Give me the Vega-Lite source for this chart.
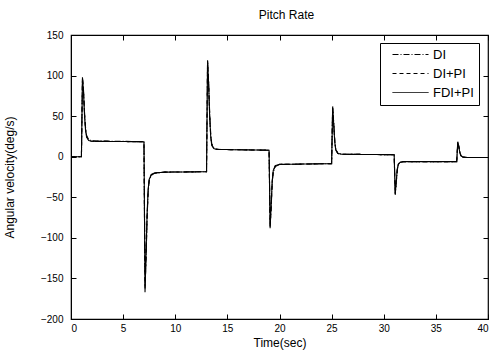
{
  "$schema": "https://vega.github.io/schema/vega-lite/v6.json",
  "width": 417,
  "height": 284,
  "autosize": {"type": "none"},
  "padding": {"left": 71, "top": 35, "right": 4, "bottom": 37},
  "background": "white",
  "title": {"text": "Pitch Rate", "fontSize": 12, "fontWeight": "normal", "font": "Liberation Sans", "color": "black", "offset": 8, "dx": 7},
  "config": {
    "font": "Liberation Sans",
    "view": {"stroke": "black", "strokeWidth": 1.2},
    "axis": {"grid": false, "domainColor": "black", "tickColor": "black", "labelColor": "black", "titleColor": "black", "labelFontSize": 10, "titleFontSize": 12, "titleFontWeight": "normal", "tickSize": -5}
  },
  "data": {"values": [
    {"t": 0, "DI": 0, "DI+PI": 0, "FDI+PI": 0},
    {"t": 1.0, "DI": 0, "DI+PI": 0, "FDI+PI": 0},
    {"t": 1.1, "DI": 96, "DI+PI": 97, "FDI+PI": 98},
    {"t": 1.2, "DI": 82, "DI+PI": 81, "FDI+PI": 80},
    {"t": 1.3, "DI": 54, "DI+PI": 52, "FDI+PI": 50},
    {"t": 1.4, "DI": 35, "DI+PI": 33, "FDI+PI": 32},
    {"t": 1.5, "DI": 26, "DI+PI": 25, "FDI+PI": 24},
    {"t": 1.7, "DI": 21, "DI+PI": 20, "FDI+PI": 20},
    {"t": 2.0, "DI": 19.5, "DI+PI": 19, "FDI+PI": 19},
    {"t": 7.0, "DI": 18.5, "DI+PI": 18.5, "FDI+PI": 18.5},
    {"t": 7.1, "DI": -160, "DI+PI": -164, "FDI+PI": -167},
    {"t": 7.2, "DI": -125, "DI+PI": -122, "FDI+PI": -120},
    {"t": 7.3, "DI": -76, "DI+PI": -73, "FDI+PI": -70},
    {"t": 7.4, "DI": -44, "DI+PI": -42, "FDI+PI": -40},
    {"t": 7.5, "DI": -30, "DI+PI": -29, "FDI+PI": -28},
    {"t": 7.7, "DI": -23, "DI+PI": -22, "FDI+PI": -22},
    {"t": 8.0, "DI": -20.5, "DI+PI": -20, "FDI+PI": -20},
    {"t": 9.0, "DI": -19, "DI+PI": -19, "FDI+PI": -19},
    {"t": 13.0, "DI": -18.5, "DI+PI": -18.5, "FDI+PI": -18.5},
    {"t": 13.1, "DI": 116, "DI+PI": 118, "FDI+PI": 119},
    {"t": 13.2, "DI": 92, "DI+PI": 91, "FDI+PI": 90},
    {"t": 13.3, "DI": 54, "DI+PI": 52, "FDI+PI": 50},
    {"t": 13.4, "DI": 28, "DI+PI": 26, "FDI+PI": 25},
    {"t": 13.5, "DI": 16, "DI+PI": 15, "FDI+PI": 14},
    {"t": 13.7, "DI": 11, "DI+PI": 10, "FDI+PI": 10},
    {"t": 14.0, "DI": 9, "DI+PI": 9, "FDI+PI": 9},
    {"t": 19.0, "DI": 8, "DI+PI": 8, "FDI+PI": 8},
    {"t": 19.1, "DI": -85, "DI+PI": -87, "FDI+PI": -88},
    {"t": 19.2, "DI": -63, "DI+PI": -61, "FDI+PI": -60},
    {"t": 19.3, "DI": -33, "DI+PI": -31, "FDI+PI": -30},
    {"t": 19.4, "DI": -19, "DI+PI": -18, "FDI+PI": -17},
    {"t": 19.6, "DI": -12, "DI+PI": -11, "FDI+PI": -11},
    {"t": 20.0, "DI": -9.5, "DI+PI": -9.5, "FDI+PI": -9.5},
    {"t": 25.0, "DI": -8.5, "DI+PI": -8.5, "FDI+PI": -8.5},
    {"t": 25.1, "DI": 60, "DI+PI": 61, "FDI+PI": 62},
    {"t": 25.2, "DI": 42, "DI+PI": 41, "FDI+PI": 40},
    {"t": 25.3, "DI": 20, "DI+PI": 19, "FDI+PI": 18},
    {"t": 25.4, "DI": 9, "DI+PI": 8.5, "FDI+PI": 8},
    {"t": 25.6, "DI": 4.5, "DI+PI": 4, "FDI+PI": 4},
    {"t": 26.0, "DI": 3, "DI+PI": 3, "FDI+PI": 3},
    {"t": 31.0, "DI": 2.5, "DI+PI": 2.5, "FDI+PI": 2.5},
    {"t": 31.1, "DI": -45, "DI+PI": -46, "FDI+PI": -47},
    {"t": 31.2, "DI": -32, "DI+PI": -31, "FDI+PI": -30},
    {"t": 31.3, "DI": -16, "DI+PI": -15.5, "FDI+PI": -15},
    {"t": 31.4, "DI": -10, "DI+PI": -9.5, "FDI+PI": -9},
    {"t": 31.6, "DI": -7, "DI+PI": -6.5, "FDI+PI": -6.5},
    {"t": 32.0, "DI": -6, "DI+PI": -6, "FDI+PI": -6},
    {"t": 37.0, "DI": -6, "DI+PI": -6, "FDI+PI": -6},
    {"t": 37.1, "DI": 17.5, "DI+PI": 18, "FDI+PI": 18.5},
    {"t": 37.2, "DI": 13, "DI+PI": 12.5, "FDI+PI": 12},
    {"t": 37.3, "DI": 6, "DI+PI": 5.5, "FDI+PI": 5},
    {"t": 37.4, "DI": 1.5, "DI+PI": 1, "FDI+PI": 1},
    {"t": 37.6, "DI": -0.5, "DI+PI": -0.5, "FDI+PI": -0.5},
    {"t": 38.0, "DI": -1, "DI+PI": -1, "FDI+PI": -1},
    {"t": 40.0, "DI": -1, "DI+PI": -1, "FDI+PI": -1}
  ]},
  "transform": [{"fold": ["DI", "DI+PI", "FDI+PI"], "as": ["series", "value"]}],
  "layer": [
    {
      "mark": {"type": "line", "color": "black", "strokeWidth": 1.1, "clip": true},
      "encoding": {
        "x": {"field": "t", "type": "quantitative", "scale": {"domain": [0, 40], "nice": false}, "axis": {"orient": "bottom", "values": [0, 5, 10, 15, 20, 25, 30, 35, 40], "title": "Time(sec)", "titlePadding": 4, "labelPadding": 9}},
        "y": {"field": "value", "type": "quantitative", "scale": {"domain": [-200, 150], "nice": false}, "axis": {"orient": "left", "values": [-200, -150, -100, -50, 0, 50, 100, 150], "title": "Angular velocity(deg/s)", "titlePadding": 24, "labelPadding": 13}},
        "strokeDash": {"field": "series", "type": "nominal", "scale": {"domain": ["DI", "DI+PI", "FDI+PI"], "range": [[6, 2, 1, 2], [4, 3], [1, 0]]},
          "legend": {"title": null, "orient": "none", "legendX": 309, "legendY": 8, "symbolType": "M-3,0H3", "symbolSize": 144, "symbolOffset": 19, "symbolStrokeColor": "black", "symbolStrokeWidth": 1, "labelFontSize": 13, "labelColor": "black", "strokeColor": "black", "fillColor": "white", "padding": 5, "rowPadding": 5, "labelOffset": 16}},
        "order": {"field": "t", "type": "quantitative"}
      }
    },
    {
      "mark": {"type": "line", "opacity": 0},
      "encoding": {
        "x": {"field": "t", "type": "quantitative", "axis": {"orient": "top", "values": [0, 5, 10, 15, 20, 25, 30, 35, 40], "labels": false, "title": null, "domain": false}},
        "y": {"field": "value", "type": "quantitative", "axis": {"orient": "right", "values": [-200, -150, -100, -50, 0, 50, 100, 150], "labels": false, "title": null, "domain": false}}
      }
    }
  ],
  "resolve": {"axis": {"x": "independent", "y": "independent"}}
}
